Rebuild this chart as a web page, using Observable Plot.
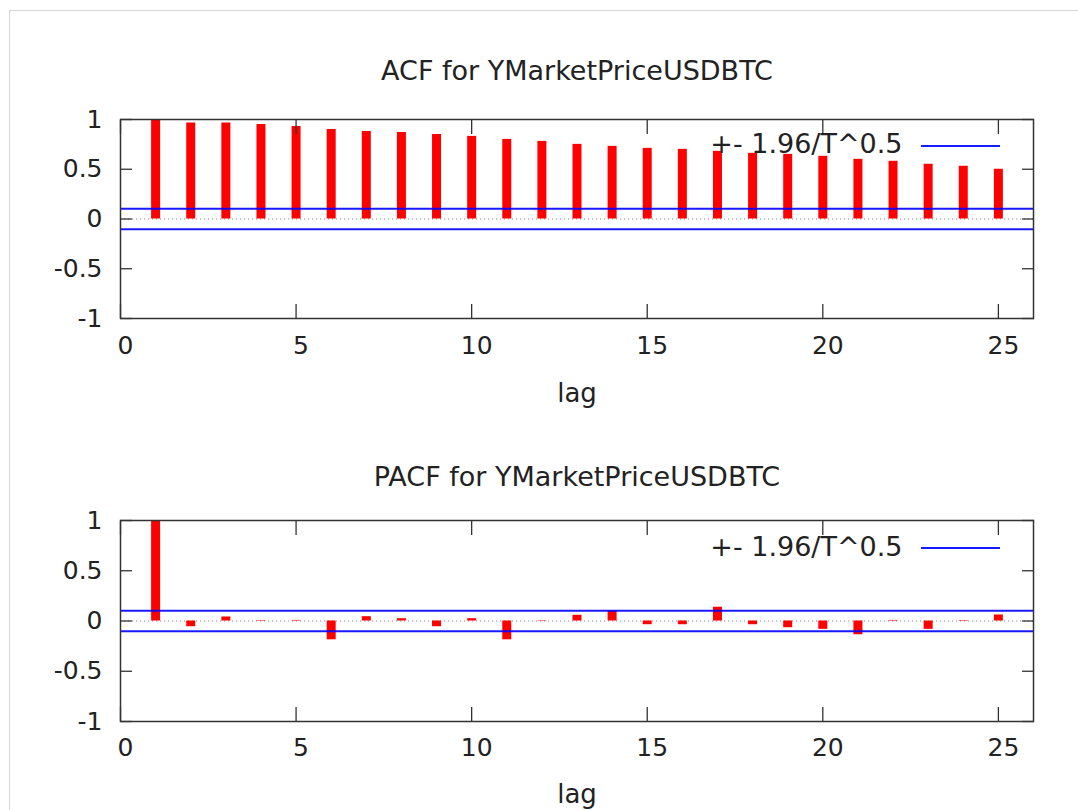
<!DOCTYPE html>
<html><head><meta charset="utf-8">
<script src="https://cdn.jsdelivr.net/npm/d3@7"></script>
<script src="https://cdn.jsdelivr.net/npm/@observablehq/plot@0.6"></script>
<style>
html,body{margin:0;padding:0;background:#fff;overflow:hidden;width:1078px;height:810px;position:relative;}
#border{position:absolute;left:9px;top:10px;width:1200px;height:1000px;border:1px solid #d6d6d6;}
.panel{position:absolute;left:0;}
.leg{position:absolute;height:2px;background:#0000ff;opacity:0.9;}
</style></head><body>
<div id="border"></div>
<div id="p1" class="panel" style="top:0px"></div>
<div id="p2" class="panel" style="top:405px"></div>
<div class="leg" style="left:921px;width:79px;top:145px"></div>
<div class="leg" style="left:921px;width:79px;top:547px"></div>
<script>
const lags = [1,2,3,4,5,6,7,8,9,10,11,12,13,14,15,16,17,18,19,20,21,22,23,24,25];
const acfValues = [0.995,0.965,0.965,0.95,0.93,0.90,0.88,0.87,0.85,0.83,0.80,0.78,0.75,0.73,0.71,0.70,0.68,0.66,0.65,0.63,0.60,0.58,0.55,0.53,0.50];
const pacfValues = [0.995,-0.057,0.04,0.005,0.006,-0.187,0.043,0.023,-0.057,0.023,-0.187,0.004,0.057,0.10,-0.037,-0.037,0.137,-0.037,-0.067,-0.083,-0.137,0.006,-0.083,0.005,0.06];
const bandValue = 0.102;
const xTicks = [0,5,10,15,20,25];
const yTicks = [-1,-0.5,0,0.5,1];
const acfTitle = "ACF for YMarketPriceUSDBTC";
const pacfTitle = "PACF for YMarketPriceUSDBTC";
const legendLabel = "+- 1.96/T^0.5";
const xLabel = "lag";

function panel(values, title, cfg) {
  const data = lags.map((lag, i) => ({lag, value: values[i]}));
  return Plot.plot({
    width: 1078, height: 405,
    marginLeft: 120, marginRight: 45, marginTop: cfg.mt, marginBottom: cfg.mb,
    style: {fontFamily: "DejaVu Sans", color: "#222", background: "transparent", overflow: "visible"},
    x: {domain: [0, 26], label: null},
    y: {domain: [-1, 1], label: null},
    marks: [
      Plot.ruleY([0], {stroke: "#8a8a8a", strokeWidth: 1.2, strokeDasharray: "1.2,2.8"}),
      Plot.ruleX(data, {x: "lag", y1: 0, y2: "value", stroke: "#ff0000", strokeWidth: 9}),
      Plot.ruleY([-bandValue, bandValue], {stroke: "#0000ff", strokeWidth: 2, strokeOpacity: 0.9}),
      Plot.axisX(xTicks, {anchor: "bottom", tickSize: -14, fill: "none", stroke: "#333", strokeWidth: 1.3}),
      Plot.axisX(xTicks, {anchor: "top", tickSize: -14, fill: "none", stroke: "#333", strokeWidth: 1.3}),
      Plot.axisY(yTicks, {anchor: "left", tickSize: -12, fill: "none", stroke: "#333", strokeWidth: 1.3}),
      Plot.axisY(yTicks, {anchor: "right", tickSize: -12, fill: "none", stroke: "#333", strokeWidth: 1.3}),
      Plot.axisX(xTicks, {anchor: "bottom", tickSize: 0, tickPadding: cfg.xpad, dx: 5, fontSize: 25, fill: "#222", tickFormat: d => String(d)}),
      Plot.axisY(yTicks, {anchor: "left", tickSize: 0, tickPadding: 18, fontSize: 25, fill: "#222", tickFormat: d => String(d)}),
      Plot.frame({stroke: "#333", strokeWidth: 1.5}),
      Plot.text([title], {text: d => d, frameAnchor: "top", lineAnchor: "bottom", dy: -cfg.titleDy, fontSize: 27, fill: "#222"}),
      Plot.text([xLabel], {text: d => d, frameAnchor: "bottom", lineAnchor: "bottom", dy: cfg.labelDy, fontSize: 26, fill: "#222"}),
      Plot.text([legendLabel], {text: d => d, frameAnchor: "top-right", textAnchor: "end", lineAnchor: "bottom", dx: -131, dy: cfg.legDy, fontSize: 27, fill: "#222"})
    ]
  });
}

document.getElementById("p1").appendChild(panel(acfValues, acfTitle, {mt: 119, mb: 87, xpad: 18, titleDy: 40, labelDy: 83, legDy: 33}));
document.getElementById("p2").appendChild(panel(pacfValues, pacfTitle, {mt: 115, mb: 89, xpad: 17, titleDy: 35, labelDy: 81, legDy: 35}));
</script>
</body></html>
